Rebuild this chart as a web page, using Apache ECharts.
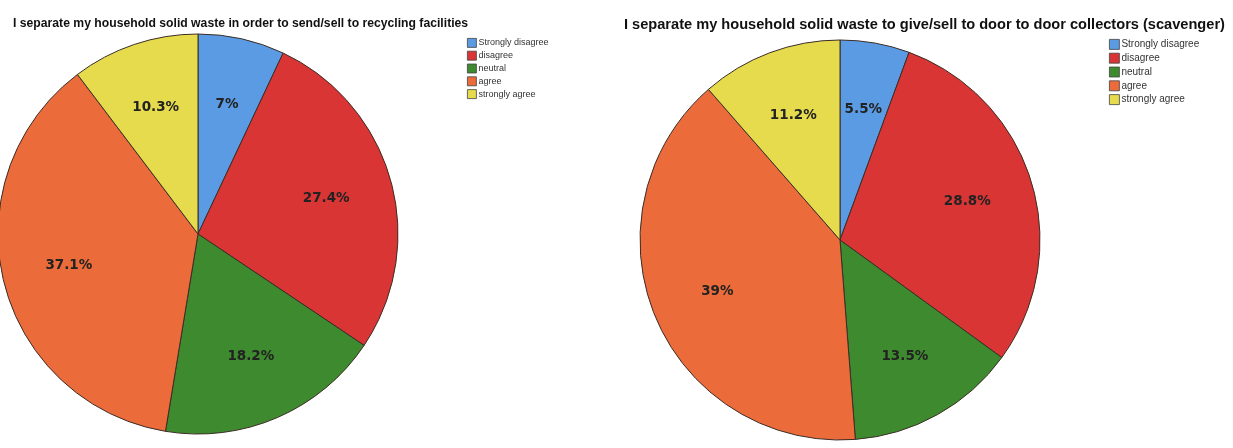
<!DOCTYPE html>
<html>
<head>
<meta charset="utf-8">
<script src="https://cdn.jsdelivr.net/npm/echarts@6/dist/echarts.min.js"></script>
<style>
  html, body { margin: 0; padding: 0; background: #fff; }
  #chart { width: 1233px; height: 448px; }
</style>
</head>
<body>
<div id="chart"></div>
<script>
const categories = ['Strongly disagree', 'disagree', 'neutral', 'agree', 'strongly agree'];
const recyclingValues = [7, 27.4, 18.2, 37.1, 10.3];
const scavengerValues = [5.5, 28.8, 13.5, 39, 11.2];
const titleLeft = 'I separate my household solid waste in order to send/sell to recycling facilities';
const titleRight = 'I separate my household solid waste to give/sell to door to door collectors (scavenger)';

const colors = ['#5b9be3', '#d93535', '#3e8a2e', '#ec6b3b', '#e5db4c'];

function toData(values) {
    return categories.map((c, i) => ({ name: c, value: values[i] }));
}

function pieSeries(values, center) {
    return {
        type: 'pie',
        center: center,
        radius: [0, 200],
        startAngle: 90,
        clockwise: true,
        avoidLabelOverlap: false,
        label: { show: false },
        labelLine: { show: false },
        itemStyle: { borderColor: '#3b2d25', borderWidth: 1 },
        emphasis: { disabled: true },
        data: toData(values)
    };
}

// transparent ring only used to place the percentage labels a bit further out
function labelSeries(values, center) {
    return {
        type: 'pie',
        center: center,
        radius: [60, 200],
        startAngle: 90,
        clockwise: true,
        silent: true,
        legendHoverLink: false,
        avoidLabelOverlap: false,
        itemStyle: { color: 'rgba(0,0,0,0)', borderWidth: 0 },
        label: {
            show: true,
            position: 'inside',
            formatter: p => p.value + '%',
            fontFamily: 'DejaVu Sans',
            fontWeight: 'bold',
            fontSize: 13.5,
            color: '#222'
        },
        labelLine: { show: false },
        data: toData(values)
    };
}

const chart = echarts.init(document.getElementById('chart'));
const option = {
    color: colors,
    animation: false,
    title: [{
        text: titleLeft,
        left: 8,
        top: 13,
        textStyle: { fontFamily: 'Liberation Sans Narrow, Liberation Sans', fontSize: 12.2, fontWeight: 'bold', color: '#111' }
    }, {
        text: titleRight,
        left: 619,
        top: 12,
        textStyle: { fontFamily: 'Liberation Sans Narrow, Liberation Sans', fontSize: 14.6, fontWeight: 'bold', color: '#111' }
    }],
    legend: [{
        orient: 'vertical',
        left: 462,
        top: 33,
        itemWidth: 9,
        itemHeight: 9,
        itemGap: 3,
        icon: 'rect',
        selectedMode: false,
        itemStyle: { borderColor: '#444', borderWidth: 0.8 },
        textStyle: { fontFamily: 'Liberation Sans Narrow, Liberation Sans', fontSize: 9, color: '#333', padding: [0, 0, 0, -3] },
        data: categories
    }, {
        orient: 'vertical',
        left: 1104,
        top: 34,
        itemWidth: 10,
        itemHeight: 10,
        itemGap: 3,
        icon: 'rect',
        selectedMode: false,
        itemStyle: { borderColor: '#444', borderWidth: 0.8 },
        textStyle: { fontFamily: 'Liberation Sans Narrow, Liberation Sans', fontSize: 10, color: '#333', padding: [0, 0, 0, -3] },
        data: categories
    }],
    series: [
        pieSeries(recyclingValues, [198, 234]),
        pieSeries(scavengerValues, [840, 240]),
        labelSeries(recyclingValues, [198, 234]),
        labelSeries(scavengerValues, [840, 240])
    ]
};
chart.setOption(option);
</script>
</body>
</html>
